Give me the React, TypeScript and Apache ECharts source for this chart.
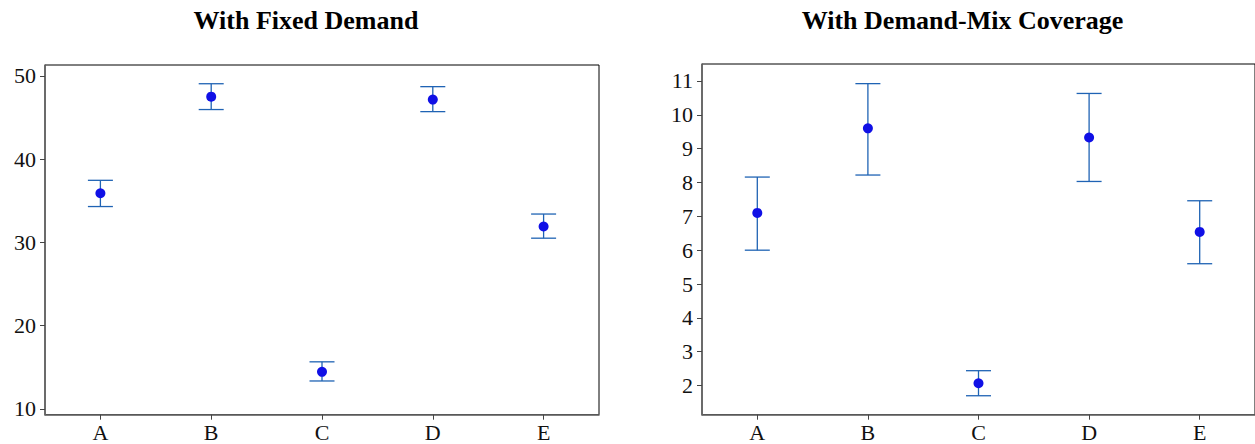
import React, { useEffect, useRef } from "react";
import * as echarts from "echarts";

const categories = ["A", "B", "C", "D", "E"];

const fixedMean = [35.9, 47.5, 14.45, 47.15, 31.9];
const fixedLow = [34.3, 45.95, 13.35, 45.7, 30.5];
const fixedHigh = [37.45, 49.05, 15.65, 48.7, 33.4];

const mixMean = [7.1, 9.6, 2.07, 9.33, 6.54];
const mixLow = [6.0, 8.22, 1.7, 8.03, 5.6];
const mixHigh = [8.16, 10.92, 2.44, 10.63, 7.46];

const fixedTicks = [10, 20, 30, 40, 50];
const mixTicks = [2, 3, 4, 5, 6, 7, 8, 9, 10, 11];

const FONT = "'Liberation Serif', 'Times New Roman', serif";
const BAR_COLOR = "#1f63b4";
const DOT_COLOR = "#1010e6";

function errorRender(params: any, api: any) {
  const x = api.value(0);
  const lo = api.coord([x, api.value(1)]);
  const hi = api.coord([x, api.value(2)]);
  const hw = 12.5;
  const style = { stroke: BAR_COLOR, lineWidth: 1.3 };
  return {
    type: "group",
    children: [
      { type: "line", shape: { x1: lo[0], y1: lo[1], x2: hi[0], y2: hi[1] }, style },
      { type: "line", shape: { x1: lo[0] - hw, y1: lo[1], x2: lo[0] + hw, y2: lo[1] }, style },
      { type: "line", shape: { x1: hi[0] - hw, y1: hi[1], x2: hi[0] + hw, y2: hi[1] }, style },
    ],
  };
}

export default function App() {
  const ref = useRef<HTMLDivElement>(null);
  useEffect(() => {
    if (!ref.current) return;
    const chart = echarts.init(ref.current, null, { renderer: "svg" });
    const axisLabel = { color: "#111", fontSize: 22, fontFamily: FONT };
    const xAxisBase = (gridIndex: number) => ({
      type: "category",
      gridIndex,
      data: categories,
      boundaryGap: true,
      axisLine: { show: true, lineStyle: { color: "#666", width: 1.6 } },
      axisTick: { show: true, alignWithLabel: true, length: 5, lineStyle: { color: "#444", width: 1 } },
      axisLabel: { ...axisLabel, margin: 7 },
      splitLine: { show: false },
    });
    const yAxisBase = (gridIndex: number, min: number, max: number, ticks: number[]) => ({
      type: "value",
      gridIndex,
      min,
      max,
      axisLine: { show: true, lineStyle: { color: "#666", width: 1.6 } },
      axisTick: { show: true, length: 5, customValues: ticks, lineStyle: { color: "#444", width: 1 } },
      axisLabel: { ...axisLabel, margin: 9, customValues: ticks },
      splitLine: { show: false },
    });
    const errData = (lo: number[], hi: number[]) => categories.map((_, i) => [i, lo[i], hi[i]]);
    const dotData = (m: number[]) => categories.map((_, i) => [i, m[i]]);
    chart.setOption({
      animation: false,
      backgroundColor: "#fff",
      grid: [
        { left: 45, top: 65, width: 554, height: 349.7, show: true, borderColor: "#000", borderWidth: 1, backgroundColor: "transparent" },
        { left: 702, top: 64, width: 555, height: 350.7, show: true, borderColor: "#000", borderWidth: 1, backgroundColor: "transparent" },
      ],
      xAxis: [xAxisBase(0), xAxisBase(1)],
      yAxis: [yAxisBase(0, 9.3, 51.3, fixedTicks), yAxisBase(1, 1.14, 11.5, mixTicks)],
      graphic: [
        { type: "text", x: 306, y: 20, style: { text: "With Fixed Demand", font: `bold 26px ${FONT}`, fill: "#000", textAlign: "center", textVerticalAlign: "middle" } },
        { type: "text", x: 962.5, y: 20, style: { text: "With Demand-Mix Coverage", font: `bold 26px ${FONT}`, fill: "#000", textAlign: "center", textVerticalAlign: "middle" } },
      ],
      series: [
        { type: "custom", xAxisIndex: 0, yAxisIndex: 0, renderItem: errorRender, data: errData(fixedLow, fixedHigh), encode: { x: 0, y: [1, 2] }, z: 2 },
        { type: "scatter", xAxisIndex: 0, yAxisIndex: 0, data: dotData(fixedMean), symbolSize: 10, itemStyle: { color: DOT_COLOR, opacity: 1 }, z: 3 },
        { type: "custom", xAxisIndex: 1, yAxisIndex: 1, renderItem: errorRender, data: errData(mixLow, mixHigh), encode: { x: 0, y: [1, 2] }, z: 2 },
        { type: "scatter", xAxisIndex: 1, yAxisIndex: 1, data: dotData(mixMean), symbolSize: 10, itemStyle: { color: DOT_COLOR, opacity: 1 }, z: 3 },
      ],
    });
    return () => chart.dispose();
  }, []);
  return <div ref={ref} style={{ position: "fixed", left: 0, top: 0, width: 1255, height: 444 }} />;
}
